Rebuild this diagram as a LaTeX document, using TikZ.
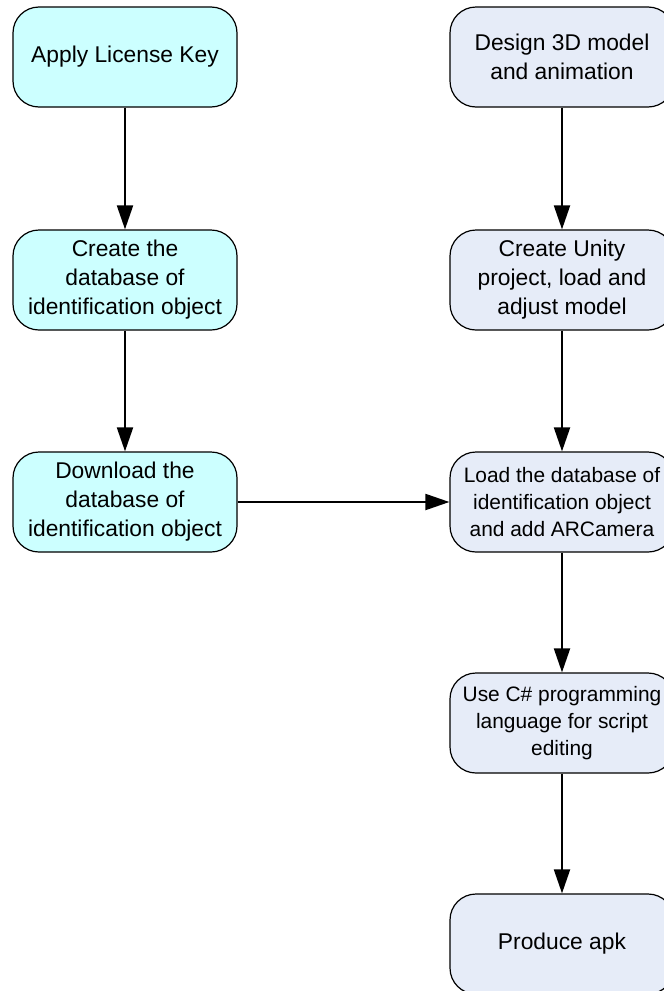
\documentclass[tikz,border=0pt]{standalone}
\usepackage{fontspec}
\setmainfont{Liberation Sans}
\usetikzlibrary{arrows.meta}
\definecolor{cyanfill}{HTML}{CCFFFF}
\definecolor{bluefill}{HTML}{E6ECF8}
\begin{document}
\begin{tikzpicture}[x=1pt,y=-1pt,
  box/.style={draw=black, line width=1.2pt, rounded corners=26pt, minimum width=224pt, minimum height=100pt,
    align=center, inner sep=0pt, font=\fontsize{22.8pt}{29pt}\selectfont},
  small/.style={font=\fontsize{20.9pt}{27pt}\selectfont},
  lbox/.style={box, fill=cyanfill},
  rbox/.style={box, fill=bluefill},
  arr/.style={draw=black, line width=2pt, -{Triangle[length=24pt,width=16pt]}}]
\useasboundingbox (0,0) rectangle (664,991);
\node[lbox] (l1) at (125,57) {Apply License Key};
\node[lbox] (l2) at (125,280) {Create the\\database of\\identification object};
\node[lbox] (l3) at (125,502) {Download the\\database of\\identification object};
\node[rbox] (r1) at (562,57) {Design 3D model\\and animation};
\node[rbox] (r2) at (562,280) {Create Unity\\project, load and\\adjust model};
\node[rbox,small] (r3) at (562,502) {Load the database of\\identification object\\and add ARCamera};
\node[rbox,small] (r4) at (562,723) {Use C\# programming\\language for script\\editing};
\node[rbox] (r5) at (562,944) {Produce apk};
\draw[arr] (l1) -- (l2);
\draw[arr] (l2) -- (l3);
\draw[arr] (l3) -- (r3);
\draw[arr] (r1) -- (r2);
\draw[arr] (r2) -- (r3);
\draw[arr] (r3) -- (r4);
\draw[arr] (r4) -- (r5);
\end{tikzpicture}
\end{document}
